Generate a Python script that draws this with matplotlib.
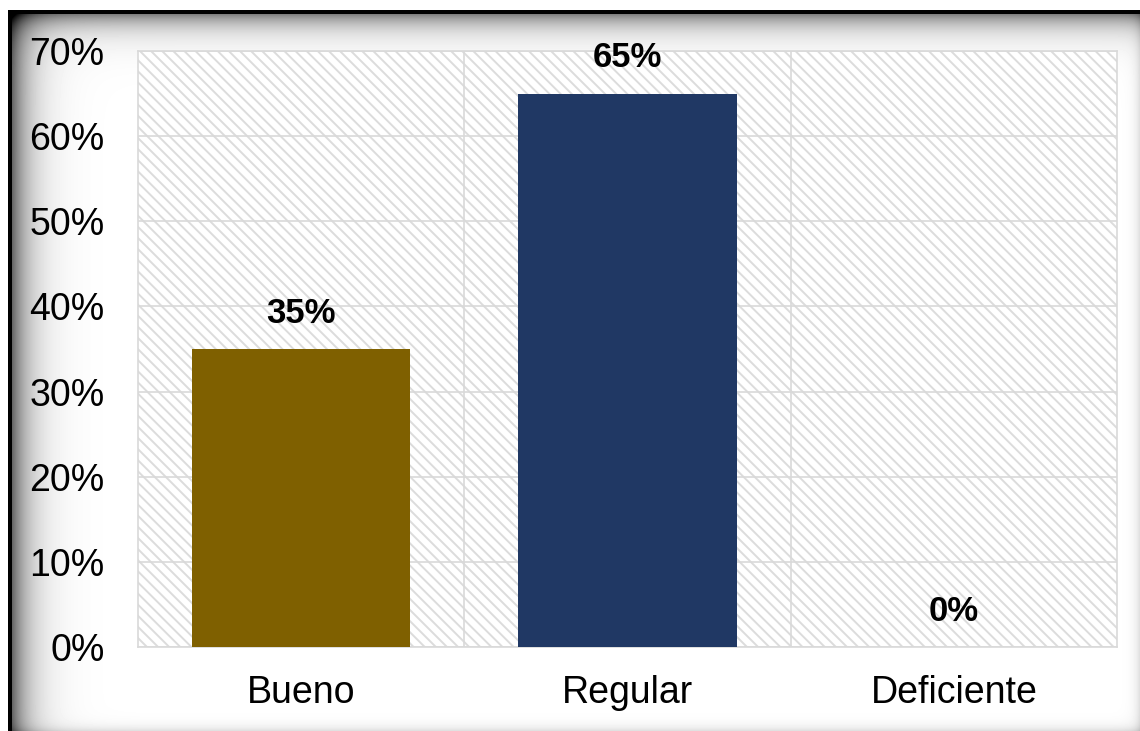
import matplotlib.pyplot as plt
import numpy as np
from matplotlib.patches import Rectangle

# Datos de la gráfica
categorias = ['Bueno', 'Regular', 'Deficiente']
porcentajes = [35, 65, 0]
colores = ['#7F6000', '#203864', '#A5A5A5']
yticks = [0, 10, 20, 30, 40, 50, 60, 70]

plt.rcParams['font.family'] = ['Liberation Sans', 'DejaVu Sans']
plt.rcParams['hatch.linewidth'] = 1.4

W, H = 1140, 731
fig = plt.figure(figsize=(W / 100, H / 100), dpi=100)

# Fondo con marco negro y sombra interior
fondo = fig.add_axes([0, 0, 1, 1], zorder=-5)
yy, xx = np.mgrid[0:H, 0:W].astype(float)
dl = xx - 12
dt = yy - 14
sombra = np.exp(-np.clip(dl, 0, None) / 18) * 0.6 + np.exp(-np.clip(dt, 0, None) / 14) * 0.5
sombra += np.exp(-np.clip(W - 1 - xx, 0, None) / 5) * 0.12
sombra += np.exp(-np.clip(H - 1 - yy, 0, None) / 5) * 0.12
img = np.clip(1 - sombra, 0, 1)
img[(xx >= 8) & (xx < 12) & (yy >= 10)] = 0
img[(yy >= 10) & (yy < 14) & (xx >= 8)] = 0
img[yy < 10] = 1
img[xx < 8] = 1
fondo.imshow(img, cmap='gray', vmin=0, vmax=1, aspect='auto', interpolation='bilinear')
fondo.axis('off')

ax = fig.add_axes([138 / W, 1 - 647 / H, (1117 - 138) / W, (647 - 51) / H])
x = np.arange(len(categorias))

# Área de trazado rayada
ax.add_patch(Rectangle((0, 0), 1, 1, transform=ax.transAxes, facecolor='white',
                       edgecolor='#dcdcdc', hatch='\\\\\\', linewidth=0, zorder=0))

barras = ax.bar(x, porcentajes, width=0.67, color=colores, zorder=3)
for xi, v in zip(x, porcentajes):
    ax.annotate(f'{v}%', (xi, v), xytext=(0, 14), textcoords='offset points',
                ha='center', va='bottom', fontsize=25, fontweight='bold', zorder=4)

ax.set_xlim(-0.5, 2.5)
ax.set_ylim(0, 70)
ax.set_yticks(yticks)
ax.set_yticklabels([f'{t}%' for t in yticks])
ax.set_xticks(x)
ax.set_xticklabels(categorias)
ax.set_xticks([0.5, 1.5], minor=True)
ax.tick_params(axis='both', which='both', length=0, labelsize=27)
ax.tick_params(axis='y', pad=24)
ax.tick_params(axis='x', pad=20)

ax.grid(axis='y', color='#d9d9d9', linewidth=1.2, zorder=1)
ax.grid(axis='x', which='minor', color='#d9d9d9', linewidth=1.2, zorder=1)
ax.set_axisbelow(True)
for s in ax.spines.values():
    s.set_color('#d9d9d9')
    s.set_linewidth(1.2)

fig.savefig('out.png', dpi=100)
